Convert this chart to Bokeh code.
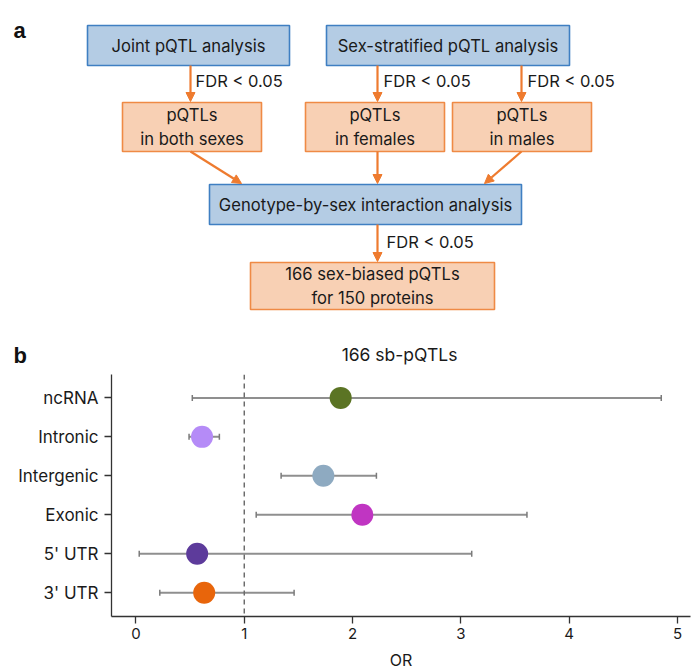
import numpy as np
from bokeh.plotting import figure
from bokeh.models import (Range1d, ColumnDataSource, Arrow, NormalHead, Whisker,
                          TeeHead, Span, FixedTicker)
from bokeh.core.properties import value
from bokeh.embed import file_html
from bokeh.resources import INLINE

FONT = "Inter"
TXT = "#1a1a1a"

# ---------------- panel b data ----------------
categories = ["ncRNA", "Intronic", "Intergenic", "Exonic", "5' UTR", "3' UTR"]
odds_ratio = [1.89, 0.61, 1.73, 2.09, 0.565, 0.63]
ci_lower = [0.52, 0.49, 1.34, 1.11, 0.03, 0.22]
ci_upper = [4.85, 0.77, 2.22, 3.61, 3.10, 1.46]
dot_colors = ["#5b7424", "#b58bf7", "#8eaac1", "#c035c2", "#5d3b9b", "#e8650b"]
x_ticks = [0, 1, 2, 3, 4, 5]
ref_line = 1.0
panel_b_title = "166 sb-pQTLs"
x_label = "OR"

# ---------------- panel a content ----------------
box_texts = ["Joint pQTL analysis", "Sex-stratified pQTL analysis",
             "pQTLs\nin both sexes", "pQTLs\nin females", "pQTLs\nin males",
             "Genotype-by-sex interaction analysis",
             "166 sex-biased pQTLs\nfor 150 proteins"]
box_kind = ["blue", "blue", "orange", "orange", "orange", "blue", "orange"]
fdr_text = "FDR < 0.05"

# layout (page pixel coordinates)
box_left = [87, 326, 122, 305, 452, 209, 250]
box_right = [289, 569, 261, 444, 591, 521, 494]
box_top = [25, 25, 102, 102, 102, 184, 262]
box_bottom = [65, 65, 151, 151, 151, 224, 309]
arr_x0 = [190, 377, 521, 190, 377, 521, 377]
arr_y0 = [65, 65, 65, 151, 151, 151, 224]
arr_x1 = [190, 377, 521, 241, 377, 484, 377]
arr_y1 = [101, 101, 101, 183, 183, 183, 261]
fdr_x = [195, 383, 527, 386]
fdr_y = [80, 80, 80, 241]

fill = {"blue": "#b4cce4", "orange": "#f8d0b4"}
edge = {"blue": "#3f7fc2", "orange": "#ef8a45"}
ARROW = "#ee7b2f"

W, H_TOP, H_BOT = 697, 372, 300

top = figure(width=W, height=H_TOP, x_range=Range1d(0, W), y_range=Range1d(H_TOP, 0),
             output_backend="svg", toolbar_location=None, min_border=0,
             outline_line_color=None, x_axis_location=None, y_axis_location=None)
top.xgrid.visible = False
top.ygrid.visible = False

bsrc = ColumnDataSource(dict(
    left=box_left, right=box_right, top=box_top, bottom=box_bottom,
    fill=[fill[k] for k in box_kind], edge=[edge[k] for k in box_kind],
    text=box_texts,
    cx=[(a + b) / 2 for a, b in zip(box_left, box_right)],
    cy=[(a + b) / 2 for a, b in zip(box_top, box_bottom)]))
top.quad(left="left", right="right", top="top", bottom="bottom", source=bsrc,
         fill_color="fill", line_color="edge", line_width=1.6)
top.text(x="cx", y="cy", text="text", source=bsrc, text_font=value(FONT),
         text_font_size="16.6px", text_align="center", text_baseline="middle",
         text_color=TXT, text_line_height=1.19)

asrc = ColumnDataSource(dict(x0=arr_x0, y0=arr_y0, x1=arr_x1, y1=arr_y1))
top.add_layout(Arrow(source=asrc, x_start="x0", y_start="y0", x_end="x1", y_end="y1",
                     line_color=ARROW, line_width=2.2,
                     end=NormalHead(size=9, fill_color=ARROW, line_color=ARROW, line_width=1)))

top.text(x=fdr_x, y=fdr_y, text=[fdr_text] * len(fdr_x), text_font=value(FONT),
         text_font_size="16.5px", text_align="left", text_baseline="middle", text_color=TXT)

top.text(x=[13, 13], y=[30, 355], text=["a", "b"], text_font=value("Liberation Sans"),
         text_font_style="bold", text_font_size="22px", text_baseline="alphabetic",
         text_color="#111111")
top.text(x=[399], y=[354], text=[panel_b_title], text_font=value(FONT),
         text_font_size="17.5px", text_align="center", text_baseline="middle", text_color=TXT)

# ---------------- panel b ----------------
yy = list(range(len(categories), 0, -1))
src = ColumnDataSource(dict(y=yy, x=odds_ratio, lo=ci_lower, hi=ci_upper,
                            color=dot_colors, name=categories))

bot = figure(width=W, height=H_BOT, x_range=Range1d(-0.226, 5.12),
             y_range=Range1d(0.39, 6.6), output_backend="svg", toolbar_location=None,
             min_border_left=111, min_border_right=7, min_border_top=2,
             min_border_bottom=54, outline_line_color=None)
bot.xgrid.visible = False
bot.ygrid.visible = False

bot.add_layout(Span(location=ref_line, dimension="height", line_color="#6b6b6b",
                    line_dash="5 4", line_width=1.5))

w = Whisker(source=src, base="y", lower="lo", upper="hi", dimension="width",
            line_color="#8f8f8f", line_width=2,
            lower_head=TeeHead(size=6, line_color="#7a7a7a", line_width=1.5),
            upper_head=TeeHead(size=6, line_color="#7a7a7a", line_width=1.5),
            level="underlay")
bot.add_layout(w)
bot.scatter("x", "y", source=src, size=22, fill_color="color", line_color=None)

bot.xaxis.ticker = FixedTicker(ticks=x_ticks)
bot.yaxis.ticker = FixedTicker(ticks=yy)
bot.yaxis.major_label_overrides = {y: c for y, c in zip(yy, categories)}
bot.xaxis.axis_label = x_label
for ax in (bot.xaxis, bot.yaxis):
    ax.axis_line_color = "#333333"
    ax.axis_line_width = 1.3
    ax.major_tick_line_color = "#333333"
    ax.major_tick_line_width = 1.3
    ax.major_tick_in = 0
    ax.minor_tick_line_color = None
    ax.major_label_text_font = FONT
    ax.major_label_text_color = TXT
    ax.axis_label_text_font = FONT
    ax.axis_label_text_color = TXT
    ax.axis_label_text_font_style = "normal"
bot.xaxis.major_tick_out = 7
bot.xaxis.major_label_standoff = 4
bot.xaxis.major_label_text_font_size = "15px"
bot.xaxis.axis_label_standoff = 8
bot.xaxis.axis_label_text_font_size = "16px"
bot.yaxis.major_tick_out = 7
bot.yaxis.major_label_standoff = 6
bot.yaxis.major_label_text_font_size = "17px"

open("out.html", "w").write(file_html([top, bot], INLINE))
